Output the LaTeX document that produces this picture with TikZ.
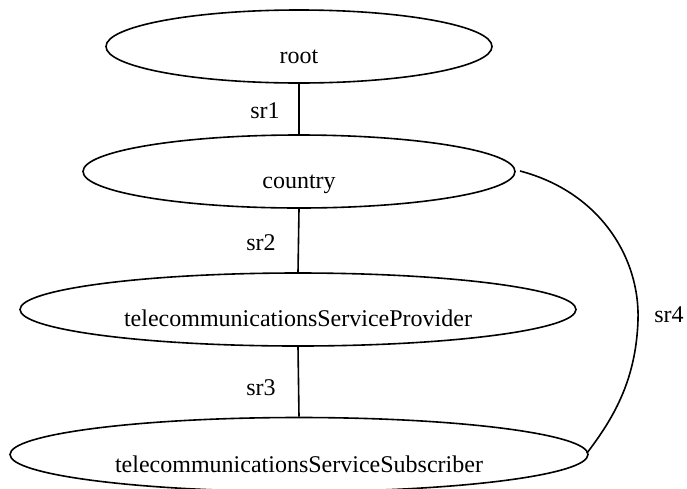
\documentclass[tikz,border=0pt]{standalone}
\usepackage{fontspec}
\setmainfont{Liberation Serif}
\usetikzlibrary{shapes.geometric}
\begin{document}
\begin{tikzpicture}[x=1pt,y=-1pt,
  ell/.style={draw, ellipse, line width=1.6pt, inner sep=0pt},
  txt/.style={anchor=base, inner sep=0pt, font=\fontsize{24}{28}\selectfont},
  edge/.style={line width=1.6pt}]
\useasboundingbox (0,0) rectangle (687,488);
\node[ell, minimum width=386pt, minimum height=73pt] (root) at (299,46.5) {};
\node[ell, minimum width=432pt, minimum height=73pt] (country) at (299,171.5) {};
\node[ell, minimum width=556pt, minimum height=73pt] (prov) at (298,309.5) {};
\node[ell, minimum width=578pt, minimum height=74pt] (subs) at (299,454.5) {};
\node[txt] (roott) at (299,63) {root};
\node[txt] (countryt) at (299,188) {country};
\node[txt] (provt) at (298,326) {telecommunicationsServiceProvider};
\node[txt] (subst) at (299,472) {telecommunicationsServiceSubscriber};
\draw[edge] (root.south) -- (country.north);
\draw[edge] (country.south) -- (prov.north);
\draw[edge] (prov.south) -- (subs.north);
\node[txt] (l1) at (265,118) {sr1};
\node[txt] (l2) at (261,250) {sr2};
\node[txt] (l3) at (261,395) {sr3};
\node[txt] (l4) at (669,322) {sr4};
\coordinate (c4a) at (520,171);
\coordinate (c4m) at (638,320);
\coordinate (c4b) at (587,453);
\draw[edge] (c4a) .. controls (600,192) and (640,258) .. (c4m)
  .. controls (636,382) and (612,420) .. (c4b);
\end{tikzpicture}
\end{document}
